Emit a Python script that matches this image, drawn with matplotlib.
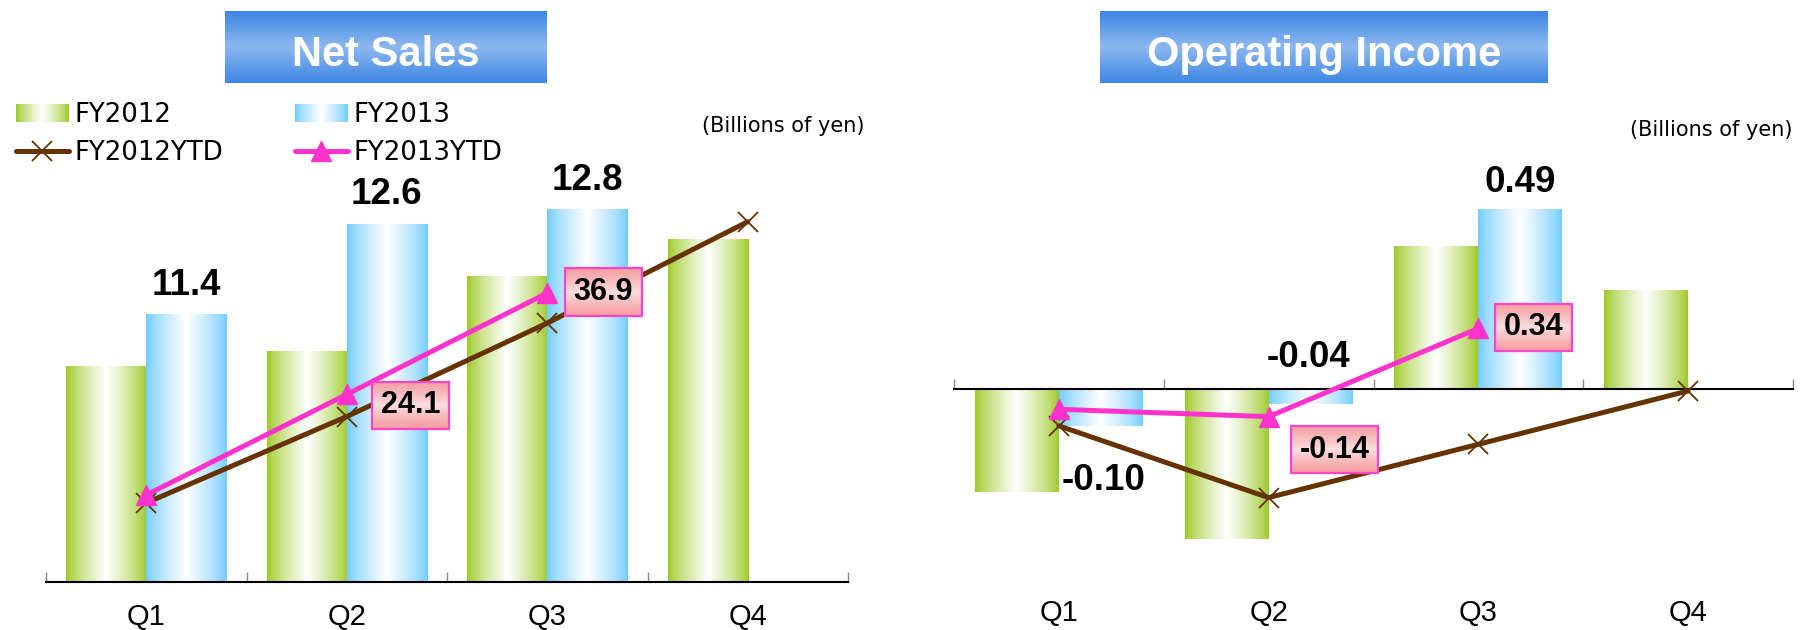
import numpy as np
import matplotlib
matplotlib.use("Agg")
import matplotlib.pyplot as plt
from matplotlib.colors import to_rgb
from matplotlib.legend_handler import HandlerBase
from matplotlib.patches import Rectangle, Patch
from matplotlib.lines import Line2D

# ---------------- data ----------------
categories = ["Q1", "Q2", "Q3", "Q4"]

ns_fy2012 = [10.7, 10.9, 11.9, 12.4]
ns_fy2013 = [11.4, 12.6, 12.8]
ns_fy2012_ytd = [10.4, 21.3, 33.1, 45.9]
ns_fy2013_ytd = [11.4, 24.1, 36.9]

oi_fy2012 = [-0.28, -0.41, 0.39, 0.27]
oi_fy2013 = [-0.10, -0.04, 0.49]
oi_fy2012_ytd = [-0.19, -0.58, -0.29, 0.00]
oi_fy2013_ytd = [-0.10, -0.14, 0.34]

legend_labels = ["FY2012", "FY2012YTD", "FY2013", "FY2013YTD"]
titles = ["Net Sales", "Operating Income"]
unit_text = "(Billions of yen)"

# ---------------- style ----------------
W, H = 1814, 630
GREEN = "#9CC924"
BLUE = "#6FCBFF"
BROWN = "#663300"
PINK = "#FF33CC"
BOX_EDGE = "#FF44CC"
NUM_FONT = "Liberation Sans"

fig = plt.figure(figsize=(W / 100, H / 100), dpi=100)


def px_rect(x0, y0, x1, y1):
    return [x0 / W, 1 - y1 / H, (x1 - x0) / W, (y1 - y0) / H]


def hgrad(color, n=96):
    c = np.array(to_rgb(color))
    t = np.linspace(0, 1, n)
    w = (1 - np.abs(2 * t - 1)) ** 0.75
    arr = c[None, :] * (1 - w[:, None]) + w[:, None] * np.ones(3)
    return arr[None, :, :]


def vgrad(c_edge, c_mid, n=96, power=1.0):
    a = np.array(to_rgb(c_edge))
    b = np.array(to_rgb(c_mid))
    t = np.linspace(0, 1, n)
    w = (1 - np.abs(2 * t - 1)) ** power
    arr = a[None, :] * (1 - w[:, None]) + b[None, :] * w[:, None]
    return arr[:, None, :]


def gradient_bars(ax, bars, color):
    for b in bars:
        bb = b.get_bbox()
        ax.imshow(hgrad(color), extent=[bb.xmin, bb.xmax, bb.ymin, bb.ymax],
                  aspect="auto", interpolation="bilinear", zorder=2)
        b.set_facecolor("none")
        b.set_linewidth(0)


class GradHandler(HandlerBase):
    def __init__(self, color):
        super().__init__()
        self.color = color

    def create_artists(self, legend, orig_handle, xdescent, ydescent,
                       width, height, fontsize, trans):
        arr = hgrad(self.color, 40)[0]
        n = len(arr)
        arts = []
        for k in range(n):
            r = Rectangle((-xdescent + k * width / n, -ydescent),
                          width / n * 1.08, height, facecolor=arr[k],
                          edgecolor="none", transform=trans)
            arts.append(r)
        return arts


boxed_texts = []


def panel(rect, v12, v13, ytd12, ytd13, ylim1, ylim2, fmt,
          val_offsets, box_offsets, label_pad, zero_axis):
    ax = fig.add_axes(px_rect(*rect))
    x = np.arange(len(categories))
    b12 = ax.bar(x - 0.2, v12, width=0.4, zorder=2)
    b13 = ax.bar(x[:len(v13)] + 0.2, v13, width=0.4, zorder=2)
    gradient_bars(ax, b12, GREEN)
    gradient_bars(ax, b13, BLUE)
    ax.set_xlim(-0.5, len(categories) - 0.5)
    ax.set_ylim(*ylim1)
    ax.set_aspect("auto")

    for s in ["top", "left", "right"]:
        ax.spines[s].set_visible(False)
    ax.spines["bottom"].set_linewidth(1.5)
    ax.spines["bottom"].set_color("black")
    if zero_axis:
        ax.spines["bottom"].set_position(("data", 0))
    ax.set_yticks([])
    ax.set_xticks(x)
    ax.set_xticklabels(categories, family=NUM_FONT)
    ax.set_xticks(np.arange(len(categories) + 1) - 0.5, minor=True)
    ax.tick_params(axis="x", which="major", length=0, pad=label_pad,
                   labelsize=21, labelcolor="black")
    ax.tick_params(axis="x", which="minor", direction="in", length=7,
                   width=1, color="#888888")
    ax.patch.set_visible(False)

    # value labels on FY2013 bars
    for i, v in enumerate(v13):
        dx, dy = val_offsets[i]
        anchor = max(v, 0) if dy > 0 else min(v, 0)
        ax.annotate(fmt.format(v), xy=(i + 0.2, anchor), xytext=(dx, dy),
                    textcoords="offset pixels", ha="center", va="baseline",
                    fontsize=26.5, fontweight="bold", family=NUM_FONT,
                    color="black", zorder=5)

    ax2 = ax.twinx()
    for s in ax2.spines.values():
        s.set_visible(False)
    ax2.set_yticks([])
    ax2.plot(x, ytd12, color=BROWN, lw=3.6, marker="x", ms=14, mew=1.3,
             solid_capstyle="round", zorder=3)
    ax2.plot(x[:len(ytd13)], ytd13, color=PINK, lw=3.6, marker="^", ms=14,
             mec=PINK, mfc=PINK, solid_capstyle="round", zorder=4)
    ax2.set_ylim(*ylim2)
    ax2.set_xlim(-0.5, len(categories) - 0.5)

    for i, v in enumerate(ytd13):
        if box_offsets[i] is None:
            continue
        dx, dy = box_offsets[i]
        t = ax2.annotate(fmt.format(v), xy=(i, v), xytext=(dx, dy),
                         textcoords="offset pixels", ha="center",
                         va="center", fontsize=22, fontweight="bold",
                         family=NUM_FONT, color="black", zorder=7,
                         bbox=dict(boxstyle="square,pad=0.28",
                                   facecolor="none", edgecolor=BOX_EDGE,
                                   linewidth=1.6))
        boxed_texts.append((ax2, t))
    return ax, ax2


axL, axL2 = panel((46, 130, 848, 581.7), ns_fy2012, ns_fy2013,
                  ns_fy2012_ytd, ns_fy2013_ytd,
                  (7.83, 13.85), (0.45, 57.48), "{:.1f}",
                  [(0, 19), (0, 20), (0, 19)],
                  [None, (64, -11), (56, 1)], 15.5, False)

axR, axR2 = panel((954, 130, 1793, 600), oi_fy2012, oi_fy2013,
                  oi_fy2012_ytd, oi_fy2013_ytd,
                  (-0.5757, 0.7085), (-1.1364, 1.418), "{:.2f}",
                  [(3, -64), (-2, 22), (0, 18)],
                  [None, (66, -33), (55, 1)], 151, True)

# ---------------- titles ----------------
def title_box(x0, y0, x1, y1, text):
    tax = fig.add_axes(px_rect(x0, y0, x1, y1))
    tax.imshow(vgrad("#3D86E5", "#8DB8EF"), extent=[0, 1, 0, 1],
               aspect="auto", interpolation="bilinear")
    tax.set_xlim(0, 1)
    tax.set_ylim(0, 1)
    tax.axis("off")
    tax.text(0.5, (y1 - 66) / (y1 - y0), text, color="white", fontsize=30,
             fontweight="bold", family=NUM_FONT, ha="center", va="baseline")


title_box(225, 11, 547, 83, titles[0])
title_box(1100, 11, 1548, 83, titles[1])

fig.text(865 / W, 1 - 126 / H, unit_text, ha="right", va="center",
         fontsize=15, color="black")
fig.text(1793 / W, 1 - 130 / H, unit_text, ha="right", va="center",
         fontsize=15, color="black")

# ---------------- legend ----------------
h12 = Patch(facecolor=GREEN)
h13 = Patch(facecolor=BLUE)
h12y = Line2D([], [], color=BROWN, lw=3.6, marker="x", ms=14, mew=1.3,
              solid_capstyle="round")
h13y = Line2D([], [], color=PINK, lw=3.6, marker="^", ms=14,
              solid_capstyle="round")
fig.legend([h12, h12y, h13, h13y], legend_labels, loc="upper left",
           bbox_to_anchor=(16 / W, 1 - 102 / H), ncol=2, frameon=False,
           fontsize=18.7, handlelength=2.04, handletextpad=0.2,
           columnspacing=2.77, labelspacing=0.45, borderpad=0,
           borderaxespad=0, numpoints=1,
           handler_map={h12: GradHandler(GREEN), h13: GradHandler(BLUE)})

# ---------------- gradient fill for boxed labels ----------------
fig.canvas.draw()
renderer = fig.canvas.get_renderer()
for ax2, t in boxed_texts:
    bb = t.get_bbox_patch().get_window_extent(renderer)
    inv = ax2.transData.inverted()
    (x0, y0), (x1, y1) = inv.transform([[bb.x0, bb.y0], [bb.x1, bb.y1]])
    ylim = ax2.get_ylim()
    xlim = ax2.get_xlim()
    ax2.imshow(vgrad("#F69EA1", "#FADEDF", power=1.2),
               extent=[x0, x1, y0, y1], aspect="auto",
               interpolation="bilinear", zorder=6)
    ax2.set_ylim(*ylim)
    ax2.set_xlim(*xlim)
    ax2.set_aspect("auto")

fig.savefig("out.png", dpi=100)
